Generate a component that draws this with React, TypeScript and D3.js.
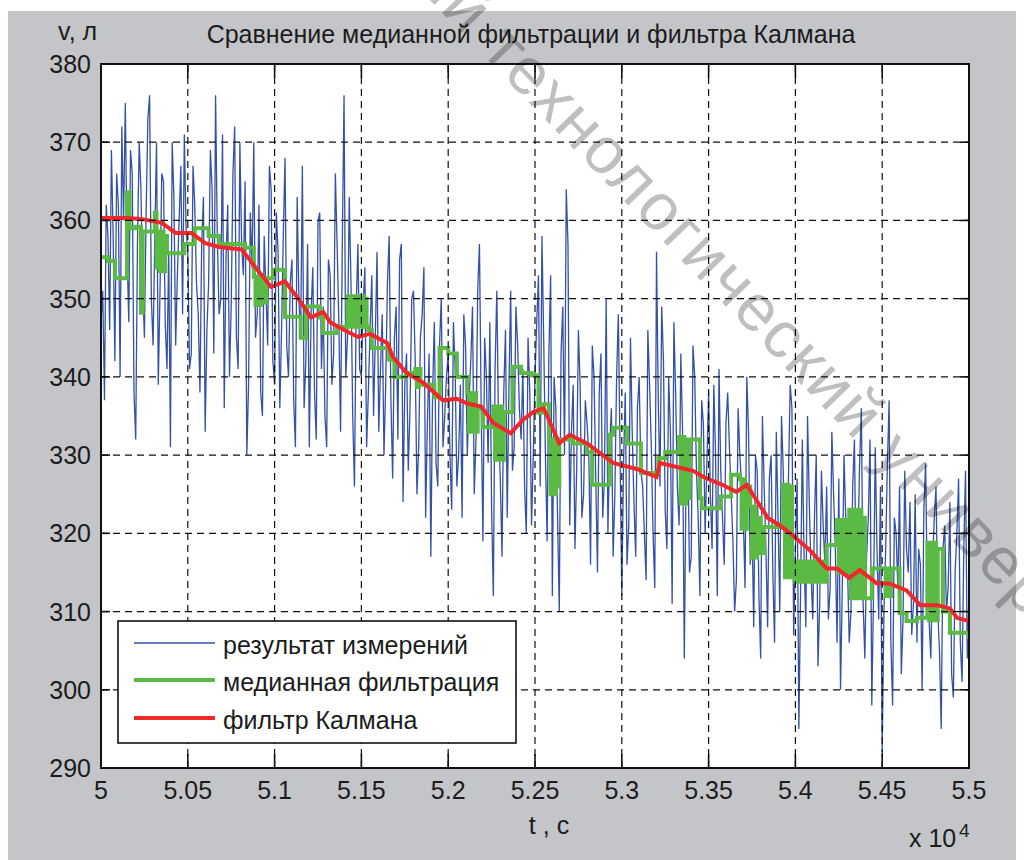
import { useEffect, useRef } from "react";
import * as d3 from "d3";

// measured volume, one sample every 10 s starting at t = 50000 s;
// samples on the even 20 s grid and the ones in between are kept apart
const startTime = 50000;
const sampleStep = 10;
const measuredEven = [
  347, 337, 358, 369, 342, 362, 372, 375, 347, 366, 332, 370, 352, 361, 376, 344, 370, 351, 365, 341, 331, 363, 353, 367, 371,
  356, 343, 362, 348, 357, 333, 352, 364, 376, 348, 371, 355, 340, 366, 345, 370, 353, 330, 361, 370, 348, 338, 358, 344, 364,
  339, 356, 346, 368, 340, 355, 331, 350, 367, 342, 331, 354, 332, 361, 349, 331, 353, 343, 357, 333, 376, 345, 352, 326, 357,
  340, 354, 338, 353, 345, 333, 348, 339, 358, 327, 349, 355, 324, 343, 336, 351, 325, 345, 354, 334, 317, 347, 326, 350, 335,
  343, 323, 341, 330, 322, 344, 337, 349, 332, 357, 319, 340, 347, 312, 351, 327, 338, 322, 351, 331, 344, 332, 326, 345, 321,
  340, 353, 358, 330, 343, 312, 336, 310, 349, 364, 321, 339, 328, 339, 325, 334, 316, 340, 315, 343, 327, 320, 336, 325, 348,
  312, 338, 321, 333, 317, 340, 326, 314, 339, 320, 356, 326, 342, 318, 333, 347, 326, 343, 304, 331, 317, 340, 322, 337, 320,
  338, 318, 330, 341, 322, 334, 331, 319, 314, 330, 322, 340, 316, 308, 328, 304, 326, 308, 330, 306, 322, 335, 315, 327, 336,
  318, 295, 332, 308, 324, 309, 330, 311, 321, 326, 313, 325, 306, 300, 330, 316, 310, 332, 318, 336, 304, 322, 298, 331, 309,
  292, 318, 337, 298, 320, 326, 309, 318, 324, 311, 306, 316, 323, 312, 304, 322, 310, 295, 321, 313, 302, 315, 327, 301, 328, 312,
];
const measuredOdd = [
  351, 362, 346, 358, 366, 340, 360, 356, 369, 338, 357, 364, 345, 373, 350, 358, 339, 366, 347, 356, 370, 344, 360, 348, 359,
  341, 367, 352, 338, 363, 346, 369, 343, 358, 350, 336, 362, 349, 372, 341, 357, 365, 339, 354, 345, 362, 335, 351, 367, 342,
  361, 336, 358, 344, 352, 337, 363, 345, 336, 357, 348, 338, 360, 341, 335, 355, 339, 366, 347, 357, 340, 363, 335, 349, 341,
  349, 331, 346, 335, 356, 341, 330, 352, 337, 345, 332, 357, 339, 328, 350, 342, 331, 348, 322, 343, 338, 329, 344, 331, 340,
  330, 347, 326, 339, 348, 330, 342, 325, 351, 336, 345, 329, 323, 341, 334, 317, 346, 339, 328, 349, 336, 341, 320, 338, 330,
  347, 326, 345, 319, 353, 340, 322, 343, 330, 357, 333, 318, 346, 322, 337, 330, 344, 327, 338, 322, 350, 331, 317, 340, 330,
  329, 316, 345, 324, 336, 328, 320, 346, 331, 313, 337, 349, 323, 340, 311, 338, 321, 333, 327, 315, 344, 328, 312, 334, 329,
  325, 339, 312, 328, 316, 338, 325, 310, 336, 326, 313, 333, 321, 330, 312, 335, 318, 327, 315, 333, 310, 328, 319, 339, 307,
  327, 313, 317, 335, 315, 322, 303, 328, 316, 309, 333, 318, 327, 313, 322, 306, 326, 314, 329, 311, 317, 332, 312, 318, 326,
  310, 329, 306, 322, 313, 302, 328, 315, 307, 325, 318, 300, 329, 309, 316, 326, 305, 318, 310, 324, 299, 320, 306, 318, 304,
];

// median filter output: [t, v], held until the next entry
const medianSteps: [number, number][] = [
  [50000, 355.3], [50040, 354.8], [50080, 352.6], [50150, 363.6], [50165, 359], [50200, 359.2], [50230, 348.2], [50240, 358.6],
  [50300, 358.6], [50310, 361], [50320, 354], [50330, 358.6], [50340, 353.5], [50350, 358.6], [50360, 353.5], [50370, 358],
  [50380, 355.8], [50480, 357], [50540, 359], [50620, 358], [50680, 357], [50830, 356.5], [50880, 352.8], [50890, 349.2],
  [50900, 352.8], [50910, 349.2], [50920, 352.5], [50930, 349.5], [50950, 352.6], [50990, 353.7], [51060, 347.7], [51150, 345],
  [51180, 349], [51260, 347.6], [51280, 345.6], [51360, 346.4], [51420, 350.3], [51430, 346.4], [51440, 350.3], [51450, 346.4],
  [51460, 350.3], [51470, 346.4], [51480, 350.3], [51490, 346.4], [51500, 350.3], [51510, 346.4], [51520, 350], [51530, 346.4],
  [51540, 346], [51560, 343.7], [51660, 342.2], [51690, 340], [51760, 340.5], [51810, 341], [51820, 338.7], [51830, 341],
  [51840, 339], [51920, 337.4], [51950, 343.7], [52000, 343], [52050, 340], [52110, 338], [52120, 333], [52130, 337.9],
  [52140, 333], [52150, 337.9], [52160, 333], [52170, 336], [52200, 333.6], [52260, 336.2], [52270, 329.4], [52280, 336.2],
  [52290, 329.4], [52300, 336.2], [52310, 329.4], [52320, 335.5], [52370, 341.3], [52420, 340.5], [52480, 340.2], [52520, 335.4],
  [52540, 336.5], [52580, 332], [52590, 325], [52600, 332], [52610, 325], [52620, 332], [52630, 326], [52640, 332],
  [52720, 331.5], [52800, 330.4], [52830, 326.2], [52930, 332.6], [52950, 333.5], [53030, 331.5], [53110, 327.7], [53210, 329.6],
  [53250, 330.4], [53330, 332.3], [53340, 323.8], [53350, 332.3], [53360, 323.8], [53370, 332], [53380, 324.5], [53390, 332],
  [53450, 324.5], [53460, 323.2], [53570, 324.7], [53630, 327.5], [53680, 326.9], [53690, 320.6], [53700, 326.9], [53710, 320.6],
  [53720, 326], [53740, 323.4], [53750, 316.9], [53760, 323.4], [53770, 316.9], [53780, 322], [53800, 317.5], [53820, 320.8],
  [53900, 321.2], [53930, 326.2], [53940, 314.4], [53950, 326.2], [53960, 314.4], [53970, 326], [53980, 314.4], [53990, 316.4],
  [54000, 313.8], [54020, 316.4], [54040, 313.8], [54060, 316.4], [54080, 313.8], [54100, 316.4], [54120, 313.8], [54140, 316.4],
  [54160, 313.8], [54180, 318.5], [54240, 321.7], [54250, 315], [54260, 321.7], [54270, 315], [54280, 321.7], [54290, 315],
  [54300, 321.7], [54310, 323], [54320, 311.7], [54330, 323], [54340, 311.7], [54350, 323], [54360, 311.7], [54370, 323],
  [54380, 311.7], [54390, 322], [54400, 311.7], [54440, 315.5], [54520, 312], [54530, 315.5], [54540, 312], [54550, 315.5],
  [54600, 309.8], [54640, 308.8], [54700, 309.2], [54760, 318.8], [54770, 308.9], [54780, 318.8], [54790, 308.9], [54800, 318.8],
  [54810, 308.9], [54820, 318], [54850, 310], [54890, 307.3], [55000, 306.5],
];

// Kalman filter estimate: [t, v]
const kalmanPoints: [number, number][] = [
  [50000, 360.3], [50150, 360.3], [50230, 360.2], [50350, 359.7], [50430, 358.4], [50520, 358.4], [50600, 357.1], [50680, 356.6],
  [50810, 356.3], [50890, 354], [50980, 351.5], [51060, 352.2], [51130, 350.2], [51210, 347.6], [51280, 348.3], [51320, 347],
  [51400, 346], [51480, 345.1], [51550, 345.5], [51650, 344.3], [51680, 342.6], [51760, 340.5], [51860, 339.2], [51970, 337],
  [52050, 337.2], [52110, 336.6], [52190, 336.2], [52260, 334.1], [52360, 332.8], [52430, 334.5], [52490, 335.5], [52550, 336],
  [52640, 331.5], [52700, 332.6], [52800, 331.5], [52950, 329], [53090, 328.2], [53200, 327.2], [53220, 329], [53410, 328],
  [53470, 327.2], [53580, 326.2], [53660, 325.3], [53720, 326.2], [53800, 323.4], [53840, 322], [53910, 321], [53970, 320],
  [54080, 317.9], [54180, 315.5], [54240, 315.5], [54310, 314.3], [54370, 315.3], [54470, 313.6], [54540, 313.6], [54640, 312.7],
  [54720, 310.8], [54820, 310.8], [54890, 310.4], [54930, 309.2], [55000, 308.8],
];

const xTicks = [50000, 50500, 51000, 51500, 52000, 52500, 53000, 53500, 54000, 54500, 55000];
const xTickLabels = ["5", "5.05", "5.1", "5.15", "5.2", "5.25", "5.3", "5.35", "5.4", "5.45", "5.5"];
const yTicks = [290, 300, 310, 320, 330, 340, 350, 360, 370, 380];
const legendLabels = ["результат измерений", "медианная фильтрация", "фильтр Калмана"];
const seriesColors = ["#3451a8", "#5aba44", "#f0282a"];
const seriesWidths = [1.3, 4, 4];

const font = "'Liberation Sans', Arial, sans-serif";

const App = () => {
  const container = useRef<SVGSVGElement>(null);

  useEffect(() => {
    const svg = d3.select(container.current);
    svg.selectAll("*").remove();

    const left = 101, top = 64, right = 969, bottom = 768;

    const x = d3.scaleLinear().domain([50000, 55000]).range([left, right]);
    const y = d3.scaleLinear().domain([290, 380]).range([bottom, top]);

    // interleave the two halves of the measurement record
    const measured: number[] = [];
    measuredEven.forEach((v, i) => {
      measured.push(v);
      if (i < measuredOdd.length) measured.push(measuredOdd[i]);
    });

    svg.append("rect").attr("width", 1024).attr("height", 860).attr("fill", "#ffffff");
    svg.append("rect").attr("x", 8).attr("y", 11).attr("width", 1008).attr("height", 849).attr("fill", "#c4c5c8");
    svg.append("rect").attr("x", left).attr("y", top).attr("width", right - left).attr("height", bottom - top).attr("fill", "#ffffff");

    svg.append("clipPath").attr("id", "plot-clip")
      .append("rect").attr("x", left).attr("y", top).attr("width", right - left).attr("height", bottom - top);

    const plot = svg.append("g").attr("clip-path", "url(#plot-clip)");

    const measuredLine = d3.line<number>()
      .x((d, i) => x(startTime + i * sampleStep))
      .y((d) => y(d));
    const stepLine = d3.line<[number, number]>()
      .x((d) => x(d[0]))
      .y((d) => y(d[1]))
      .curve(d3.curveStepAfter);
    const plainLine = d3.line<[number, number]>()
      .x((d) => x(d[0]))
      .y((d) => y(d[1]));

    plot.append("path").attr("d", measuredLine(measured))
      .attr("fill", "none").attr("stroke", seriesColors[0]).attr("stroke-width", seriesWidths[0]);
    plot.append("path").attr("d", stepLine(medianSteps))
      .attr("fill", "none").attr("stroke", seriesColors[1]).attr("stroke-width", seriesWidths[1]);
    plot.append("path").attr("d", plainLine(kalmanPoints))
      .attr("fill", "none").attr("stroke", seriesColors[2]).attr("stroke-width", seriesWidths[2]);

    // dashed grid
    const grid = svg.append("g").attr("stroke", "#111").attr("stroke-width", 1.2).attr("stroke-dasharray", "7,5");
    xTicks.slice(1, -1).forEach((t) => {
      grid.append("line").attr("x1", x(t)).attr("x2", x(t)).attr("y1", bottom).attr("y2", top);
    });
    yTicks.slice(1, -1).forEach((v) => {
      grid.append("line").attr("x1", left).attr("x2", right).attr("y1", y(v)).attr("y2", y(v));
    });

    // frame and inward ticks
    const axes = svg.append("g").attr("stroke", "#111").attr("stroke-width", 1.6);
    xTicks.forEach((t) => {
      axes.append("line").attr("x1", x(t)).attr("x2", x(t)).attr("y1", bottom).attr("y2", bottom - 14);
      axes.append("line").attr("x1", x(t)).attr("x2", x(t)).attr("y1", top).attr("y2", top + 14);
    });
    yTicks.forEach((v) => {
      axes.append("line").attr("x1", left).attr("x2", left + 9).attr("y1", y(v)).attr("y2", y(v));
      axes.append("line").attr("x1", right).attr("x2", right - 9).attr("y1", y(v)).attr("y2", y(v));
    });
    axes.append("rect").attr("x", left).attr("y", top).attr("width", right - left).attr("height", bottom - top)
      .attr("fill", "none").attr("stroke-width", 2);

    const text = svg.append("g").attr("font-family", font).attr("fill", "#1c1c1c");

    xTicks.forEach((t, i) => {
      text.append("text").attr("x", x(t)).attr("y", 799).attr("text-anchor", "middle")
        .attr("font-size", 25).text(xTickLabels[i]);
    });
    yTicks.forEach((v) => {
      text.append("text").attr("x", 91).attr("y", y(v) + 9).attr("text-anchor", "end")
        .attr("font-size", 25).text(String(v));
    });

    text.append("text").attr("x", 531).attr("y", 43).attr("text-anchor", "middle").attr("font-size", 25)
      .text("Сравнение медианной фильтрации и фильтра Калмана");
    text.append("text").attr("x", 58).attr("y", 40).attr("font-size", 25).text("v, л");
    text.append("text").attr("x", 549).attr("y", 834).attr("text-anchor", "middle").attr("font-size", 25).text("t , c");
    text.append("text").attr("x", 909).attr("y", 847).attr("font-size", 25).text("x 10");
    text.append("text").attr("x", 959).attr("y", 837).attr("font-size", 19).text("4");

    // legend
    const legend = svg.append("g");
    legend.append("rect").attr("x", 118).attr("y", 621).attr("width", 398).attr("height", 122)
      .attr("fill", "#ffffff").attr("stroke", "#111").attr("stroke-width", 1.6);
    const rowY = [643, 680, 718];
    legendLabels.forEach((label, i) => {
      legend.append("line").attr("x1", 134).attr("x2", 215).attr("y1", rowY[i]).attr("y2", rowY[i])
        .attr("stroke", seriesColors[i]).attr("stroke-width", i === 0 ? 1.5 : 4);
      legend.append("text").attr("x", 223).attr("y", rowY[i] + 11).attr("font-family", font)
        .attr("font-size", 25).attr("fill", "#1c1c1c").text(label);
    });

    // diagonal watermark, running off the page at the top and the right
    const mark = svg.append("g").attr("transform", "translate(480,52) rotate(46)")
      .attr("font-family", font).attr("font-size", 66).attr("fill", "#000").attr("fill-opacity", 0.25)
      .attr("letter-spacing", 2);
    mark.append("text").attr("x", 0).attr("y", 0).text("технологический университет");
    mark.append("text").attr("x", -20).attr("y", 0).attr("text-anchor", "end").text("государственный");
  }, []);

  return (
    <svg ref={container} width={1024} height={860} style={{ position: "absolute", left: 0, top: 0 }}></svg>
  );
};

export default App;
